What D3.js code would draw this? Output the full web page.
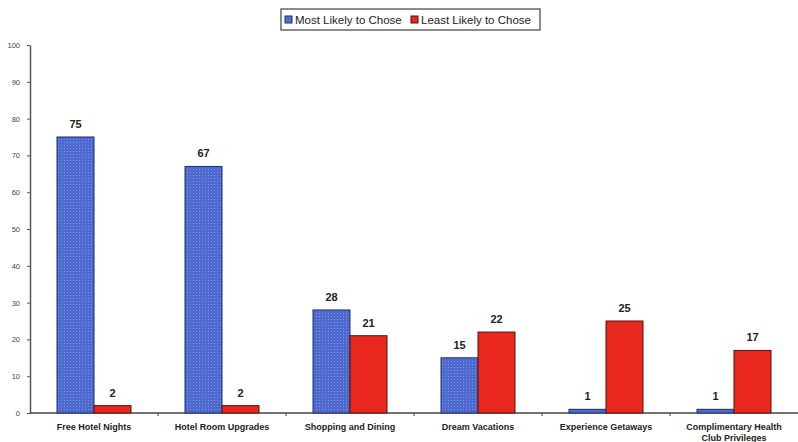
<!DOCTYPE html>
<html><head><meta charset="utf-8">
<script src="https://cdn.jsdelivr.net/npm/d3@7"></script>
<style>body{margin:0;background:#fff;}svg{display:block;font-family:Arial,"Liberation Sans",sans-serif;}</style>
</head><body>
<svg id="c" width="798" height="442"></svg>
<script>
const categories = [["Free Hotel Nights"],["Hotel Room Upgrades"],["Shopping and Dining"],["Dream Vacations"],["Experience Getaways"],["Complimentary Health","Club Privileges"]];
const seriesNames = ["Most Likely to Chose","Least Likely to Chose"];
const mostLikely = [75,67,28,15,1,1];
const leastLikely = [2,2,21,22,25,17];
const yTicks = [0,10,20,30,40,50,60,70,80,90,100];

const svg = d3.select("#c");
const defs = svg.append("defs");
const pat = defs.append("pattern").attr("id","dots").attr("width",3).attr("height",3).attr("patternUnits","userSpaceOnUse");
pat.append("rect").attr("width",3).attr("height",3).attr("fill","#4d68cf");
pat.append("rect").attr("x",1).attr("y",1).attr("width",1).attr("height",1).attr("fill","#7f95e0");

const x0 = 30, x1 = 798, yBase = 413, yTop = 45;
const x = d3.scaleBand().domain(d3.range(categories.length)).range([x0,x1]).paddingInner(0).paddingOuter(0);
const y = d3.scaleLinear().domain([0,100]).range([yBase,yTop]);
const barW = 37;
const colors = ["url(#dots)","#e8281e"];
const strokes = ["#1e2a6e","#5a1010"];
const series = [mostLikely, leastLikely];

// y axis
const yAxis = d3.axisLeft(y).tickValues(yTicks).tickSize(3).tickSizeOuter(0);
const ga = svg.append("g").attr("transform",`translate(${x0},0)`).call(yAxis);
ga.select(".domain").attr("stroke","#555").attr("stroke-width",1.5);
ga.selectAll(".tick line").attr("stroke","#555");
ga.selectAll(".tick text").attr("font-size",7.5).attr("fill","#444").attr("dx",-4);

// x axis
const gx = svg.append("g").attr("transform",`translate(0,${yBase})`);
gx.append("line").attr("x1",x0).attr("x2",x1).attr("stroke","#444").attr("stroke-width",1.5);
gx.selectAll("line.t").data(d3.range(1,categories.length)).enter().append("line")
  .attr("x1",d=>x(d)).attr("x2",d=>x(d)).attr("y1",0).attr("y2",3).attr("stroke","#444");

categories.forEach((lines,i)=>{
  const cx = x(i)+x.bandwidth()/2;
  series.forEach((s,j)=>{
    const bx = cx - barW + j*barW;
    svg.append("rect").attr("x",bx).attr("y",y(s[i])).attr("width",barW).attr("height",yBase-y(s[i]))
      .attr("fill",colors[j]).attr("stroke",strokes[j]).attr("stroke-width",1);
    svg.append("text").attr("x",bx+barW/2).attr("y",y(s[i])-9).attr("text-anchor","middle")
      .attr("font-size",11).attr("font-weight","bold").attr("fill","#222").text(s[i]);
  });
  lines.forEach((t,k)=>{
    svg.append("text").attr("x",cx).attr("y",yBase+17+k*11).attr("text-anchor","middle")
      .attr("font-size",9).attr("font-weight","bold").attr("fill","#222").text(t);
  });
});

// legend
const lg = svg.append("g");
lg.append("rect").attr("x",281).attr("y",9).attr("width",259).attr("height",21).attr("fill","#fff").attr("stroke","#666").attr("stroke-width",1.5);
const lx = [285,411];
seriesNames.forEach((n,j)=>{
  lg.append("rect").attr("x",lx[j]).attr("y",16).attr("width",7).attr("height",7).attr("fill",colors[j]).attr("stroke",strokes[j]);
  lg.append("text").attr("x",lx[j]+10).attr("y",24).attr("font-size",11.5).attr("fill","#222").text(n);
});
</script>
</body></html>
